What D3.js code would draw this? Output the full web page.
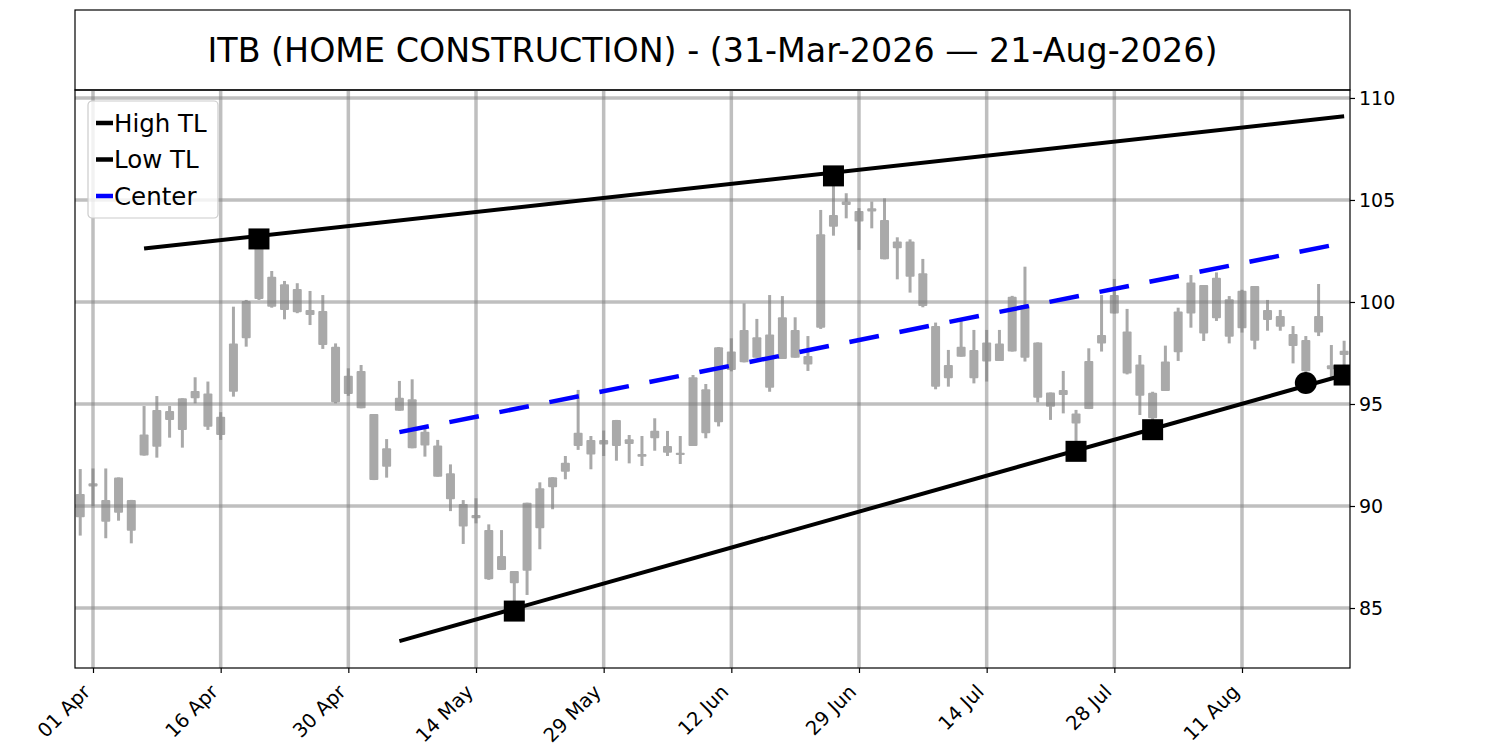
<!DOCTYPE html>
<html>
<head>
<meta charset="utf-8">
<script src="https://cdn.jsdelivr.net/npm/d3@7"></script>
<style>
  body { margin: 0; background: #fff; }
  text { font-family: "DejaVu Sans", sans-serif; }
</style>
</head>
<body>
<svg width="1500" height="750"></svg>
<script>
// Trading days, 31-Mar-2026 .. 21-Aug-2026
const dates = [
  "2026-03-31",
  "2026-04-01", "2026-04-02", "2026-04-06", "2026-04-07", "2026-04-08", "2026-04-09", "2026-04-10",
  "2026-04-13", "2026-04-14", "2026-04-15", "2026-04-16", "2026-04-17", "2026-04-20", "2026-04-21",
  "2026-04-22", "2026-04-23", "2026-04-24", "2026-04-27", "2026-04-28", "2026-04-29", "2026-04-30",
  "2026-05-01", "2026-05-04", "2026-05-05", "2026-05-06", "2026-05-07", "2026-05-08", "2026-05-11",
  "2026-05-12", "2026-05-13", "2026-05-14", "2026-05-15", "2026-05-18", "2026-05-19", "2026-05-20",
  "2026-05-21", "2026-05-22", "2026-05-26", "2026-05-27", "2026-05-28", "2026-05-29",
  "2026-06-01", "2026-06-02", "2026-06-03", "2026-06-04", "2026-06-05", "2026-06-08", "2026-06-09",
  "2026-06-10", "2026-06-11", "2026-06-12", "2026-06-15", "2026-06-16", "2026-06-17", "2026-06-18",
  "2026-06-22", "2026-06-23", "2026-06-24", "2026-06-25", "2026-06-26", "2026-06-29", "2026-06-30",
  "2026-07-01", "2026-07-02", "2026-07-06", "2026-07-07", "2026-07-08", "2026-07-09", "2026-07-10",
  "2026-07-13", "2026-07-14", "2026-07-15", "2026-07-16", "2026-07-17", "2026-07-20", "2026-07-21",
  "2026-07-22", "2026-07-23", "2026-07-24", "2026-07-27", "2026-07-28", "2026-07-29", "2026-07-30",
  "2026-07-31",
  "2026-08-03", "2026-08-04", "2026-08-05", "2026-08-06", "2026-08-07", "2026-08-10", "2026-08-11",
  "2026-08-12", "2026-08-13", "2026-08-14", "2026-08-17", "2026-08-18", "2026-08-19", "2026-08-20",
  "2026-08-21",
];

const opens = [
  90.59, 90.95, 90.29, 89.67, 90.29, 92.47, 92.91, 94.22, 93.73, 95.28,
  95.52, 94.38, 95.6, 98.22, 100.15, 101.24, 100.87, 100.64, 99.61, 99.56,
  97.81, 96.39, 96.62, 94.51, 92.83, 94.67, 95.23, 93.64, 92.96, 91.6,
  90.1, 89.4, 88.82, 87.55, 86.81, 86.83, 88.91, 90.92, 91.68, 92.94,
  93.24, 93.02, 92.94, 93.27, 92.55, 93.32, 92.94, 92.61, 92.94, 95.72,
  94.1, 96.67, 97.04, 98.27, 98.41, 97.21, 98.63, 97.35, 98.74, 103.69,
  104.75, 104.46, 104.43, 104.02, 102.96, 102.96, 101.41, 98.82, 96.91, 97.32,
  97.65, 97.08, 97.97, 97.57, 99.85, 98.02, 95.56, 95.44, 94.54, 94.75,
  97.97, 99.44, 98.55, 96.94, 95.55, 95.64, 97.53, 99.44, 100.83, 99.2,
  100.13, 98.71, 100.78, 99.12, 99.31, 98.43, 98.14, 98.5, 96.9, 97.4,
];
const highs = [
  91.81, 91.84, 91.84, 91.4, 90.3, 94.9, 95.39, 94.9, 95.28, 96.31,
  96.1, 94.6, 99.77, 100.1, 103.1, 101.52, 101.03, 100.92, 100.54, 100.34,
  97.97, 96.75, 96.91, 94.51, 93.28, 96.13, 96.21, 93.89, 93.24, 92.04,
  90.29, 90.38, 89.1, 88.82, 86.81, 90.16, 91.16, 91.41, 92.45, 95.69,
  93.43, 93.7, 94.22, 93.48, 93.43, 94.3, 93.68, 93.43, 96.42, 95.98,
  97.79, 98.22, 99.93, 99.17, 100.34, 100.29, 99.25, 98.33, 104.51, 106.2,
  105.33, 104.6, 104.92, 105.08, 103.17, 103.07, 102.11, 98.99, 97.65, 99.2,
  98.63, 98.63, 98.63, 100.3, 101.73, 98.02, 95.56, 96.62, 94.71, 97.73,
  100.34, 101.13, 99.66, 97.4, 95.6, 97.86, 99.72, 101.32, 100.83, 101.45,
  100.29, 100.6, 100.78, 100.1, 99.61, 98.82, 98.33, 100.88, 97.89, 98.1,
];
const lows = [
  88.55, 90.0, 88.42, 89.28, 88.17, 92.47, 92.37, 93.35, 92.86, 95.03,
  93.73, 93.24, 95.36, 97.81, 100.1, 99.72, 99.15, 99.45, 98.87, 97.7,
  95.03, 95.4, 94.79, 91.27, 91.39, 94.67, 92.83, 92.42, 91.44, 89.75,
  88.14, 89.15, 86.38, 86.86, 84.8, 85.64, 87.88, 89.84, 91.31, 92.75,
  91.8, 92.45, 92.22, 92.09, 91.96, 92.71, 92.45, 92.06, 92.94, 93.32,
  93.9, 96.6, 97.04, 97.27, 95.6, 97.21, 97.27, 96.62, 98.68, 103.25,
  104.1, 102.55, 103.61, 102.09, 101.11, 100.46, 99.74, 95.72, 95.85, 97.32,
  96.01, 96.1, 97.11, 97.57, 97.08, 95.08, 94.22, 94.54, 92.65, 94.75,
  97.57, 99.44, 96.45, 94.46, 93.73, 95.64, 97.11, 98.74, 98.09, 99.07,
  97.97, 98.5, 97.68, 98.59, 98.59, 96.99, 96.03, 98.33, 96.2, 96.4,
];
const closes = [
  89.45, 91.11, 89.23, 91.4, 88.79, 93.51, 94.71, 94.66, 95.28, 95.64,
  93.89, 93.48, 97.97, 100.05, 102.8, 99.77, 99.61, 99.5, 99.36, 97.89,
  95.08, 95.49, 94.79, 91.27, 91.93, 95.31, 92.83, 92.96, 91.44, 90.33,
  88.99, 89.56, 86.41, 86.86, 86.21, 90.16, 90.87, 91.41, 92.12, 93.59,
  92.53, 93.24, 94.22, 93.04, 92.42, 93.69, 92.61, 92.5, 96.31, 93.56,
  97.78, 97.57, 98.63, 97.27, 95.8, 99.25, 97.27, 96.94, 103.32, 104.26,
  104.92, 103.94, 104.59, 102.09, 102.63, 101.24, 99.8, 95.85, 96.26, 97.81,
  96.26, 98.02, 97.11, 100.26, 97.27, 95.31, 94.87, 95.69, 94.05, 97.11,
  98.38, 100.34, 96.5, 95.41, 94.3, 97.08, 99.53, 100.96, 98.46, 101.19,
  98.3, 100.55, 98.1, 99.61, 98.79, 97.84, 96.6, 99.31, 96.7, 97.61,
];

// Trend lines: [day index, price] end points
const highTL = [[5, 102.62], [99, 109.1]];
const lowTL = [[25, 83.38], [99, 96.42]];
const centerTL = [[25, 93.62], [99, 102.9]];

// Pivots sitting on the trend lines
const highPivots = [[14, 103.09], [59, 106.18]];
const lowPivots = [[34, 84.85], [78, 92.68], [84, 93.74], [99, 96.42]];
const lastPivot = [[96, 96.03]];

const tickDates = ["2026-04-01", "2026-04-16", "2026-04-30", "2026-05-14", "2026-05-29",
  "2026-06-12", "2026-06-29", "2026-07-14", "2026-07-28", "2026-08-11"];
const yTicks = [85, 90, 95, 100, 105, 110];

const title = "ITB (HOME CONSTRUCTION) - (31-Mar-2026 \u2014 21-Aug-2026)";

const candles = dates.map((d, i) => ({
  i: i, date: d, o: opens[i], h: highs[i], l: lows[i], c: closes[i],
}));

const plotLeft = 75, plotRight = 1350, plotTop = 90, plotBottom = 668;

const x = d3.scaleLinear().domain([-0.41, 99.46]).range([plotLeft, plotRight]);
const y = d3.scaleLinear().domain([82.06, 110.39]).range([plotBottom, plotTop]);

const svg = d3.select("svg");
svg.append("rect").attr("width", 1500).attr("height", 750).attr("fill", "#fff");

// Title box
svg.append("rect")
  .attr("x", plotLeft).attr("y", 10)
  .attr("width", plotRight - plotLeft).attr("height", plotTop - 10)
  .attr("fill", "none").attr("stroke", "#000").attr("stroke-width", 1.2);
svg.append("text")
  .attr("x", (plotLeft + plotRight) / 2).attr("y", 50)
  .attr("text-anchor", "middle").attr("dominant-baseline", "central")
  .attr("font-size", "33.3px")
  .text(title);

svg.append("clipPath").attr("id", "clip")
  .append("rect").attr("x", plotLeft).attr("y", plotTop)
  .attr("width", plotRight - plotLeft).attr("height", plotBottom - plotTop);

const inner = svg.append("g").attr("clip-path", "url(#clip)");

// Candles
const candle = inner.selectAll("g.candle")
  .data(candles)
  .enter()
  .append("g")
  .attr("class", "candle");

candle.append("line")
  .attr("x1", (d) => x(d.i)).attr("x2", (d) => x(d.i))
  .attr("y1", (d) => y(d.h)).attr("y2", (d) => y(d.l))
  .attr("stroke", "#a9a9a9").attr("stroke-width", 3);

candle.append("rect")
  .attr("x", (d) => x(d.i) - 4.5)
  .attr("width", 9)
  .attr("y", (d) => y(Math.max(d.o, d.c)))
  .attr("height", (d) => Math.max(2, Math.abs(y(d.o) - y(d.c))))
  .attr("rx", 1)
  .attr("fill", "#a9a9a9");

// Grid drawn over candles with transparency
const tickIdx = tickDates.map((t) => dates.indexOf(t));
inner.selectAll("line.vgrid")
  .data(tickIdx)
  .enter()
  .append("line")
  .attr("class", "vgrid")
  .attr("x1", (d) => x(d)).attr("x2", (d) => x(d))
  .attr("y1", plotTop).attr("y2", plotBottom)
  .attr("stroke", "#808080").attr("stroke-opacity", 0.5).attr("stroke-width", 3.5);
inner.selectAll("line.hgrid")
  .data(yTicks)
  .enter()
  .append("line")
  .attr("class", "hgrid")
  .attr("x1", plotLeft).attr("x2", plotRight)
  .attr("y1", (d) => y(d)).attr("y2", (d) => y(d))
  .attr("stroke", "#808080").attr("stroke-opacity", 0.5).attr("stroke-width", 3.5);

// Trend lines
const line = d3.line().x((d) => x(d[0])).y((d) => y(d[1]));
inner.append("path").datum(highTL).attr("d", line)
  .attr("fill", "none").attr("stroke", "#000").attr("stroke-width", 4);
inner.append("path").datum(lowTL).attr("d", line)
  .attr("fill", "none").attr("stroke", "#000").attr("stroke-width", 4);
inner.append("path").datum(centerTL).attr("d", line)
  .attr("fill", "none").attr("stroke", "#0000ff").attr("stroke-width", 4.5)
  .attr("stroke-dasharray", "30,21");

inner.selectAll("rect.pivot")
  .data(highPivots.concat(lowPivots))
  .enter()
  .append("rect")
  .attr("class", "pivot")
  .attr("x", (d) => x(d[0]) - 10.5).attr("y", (d) => y(d[1]) - 10.5)
  .attr("width", 21).attr("height", 21)
  .attr("fill", "#000");
inner.selectAll("circle.pivot")
  .data(lastPivot)
  .enter()
  .append("circle")
  .attr("class", "pivot")
  .attr("cx", (d) => x(d[0])).attr("cy", (d) => y(d[1]))
  .attr("r", 11)
  .attr("fill", "#000");

// Axes
const parseDate = d3.timeParse("%Y-%m-%d");
const xAxis = d3.axisBottom(x)
  .tickValues(tickIdx)
  .tickSize(5)
  .tickFormat((i) => d3.timeFormat("%d %b")(parseDate(dates[i])));
const gx = svg.append("g").attr("transform", `translate(0,${plotBottom})`).call(xAxis);
gx.select(".domain").remove();
gx.selectAll("text")
  .attr("font-size", "19.5px")
  .attr("font-family", "DejaVu Sans")
  .attr("fill", "#000")
  .attr("text-anchor", "end")
  .attr("x", 0).attr("y", 0).attr("dy", 0)
  .attr("transform", "translate(-2,25) rotate(-45)");
gx.selectAll("line").attr("stroke", "#000").attr("stroke-width", 1.2);

const yAxis = d3.axisRight(y).tickValues(yTicks).tickSize(5).tickPadding(4);
const gy = svg.append("g").attr("transform", `translate(${plotRight},0)`).call(yAxis);
gy.select(".domain").remove();
gy.selectAll("text").attr("font-size", "19px").attr("font-family", "DejaVu Sans").attr("fill", "#000");
gy.selectAll("line").attr("stroke", "#000").attr("stroke-width", 1.2);

// Plot frame
svg.append("rect")
  .attr("x", plotLeft).attr("y", plotTop)
  .attr("width", plotRight - plotLeft).attr("height", plotBottom - plotTop)
  .attr("fill", "none").attr("stroke", "#000").attr("stroke-width", 1.2);

// Legend
const legendItems = [
  { name: "High TL", color: "#000" },
  { name: "Low TL", color: "#000" },
  { name: "Center", color: "#0000ff" },
];
const legend = svg.append("g").attr("transform", "translate(88,101)");
legend.append("rect")
  .attr("width", 130).attr("height", 117).attr("rx", 4)
  .attr("fill", "#fff").attr("fill-opacity", 0.8)
  .attr("stroke", "#cccccc").attr("stroke-width", 1.2);
const li = legend.selectAll("g.item")
  .data(legendItems)
  .enter()
  .append("g")
  .attr("class", "item")
  .attr("transform", (d, i) => `translate(0,${22 + i * 36.5})`);
li.append("line")
  .attr("x1", 8).attr("x2", 25)
  .attr("stroke", (d) => d.color).attr("stroke-width", 4.5);
li.append("text")
  .attr("x", 26).attr("dominant-baseline", "central")
  .attr("font-size", "24.5px")
  .text((d) => d.name);
</script>
</body>
</html>
